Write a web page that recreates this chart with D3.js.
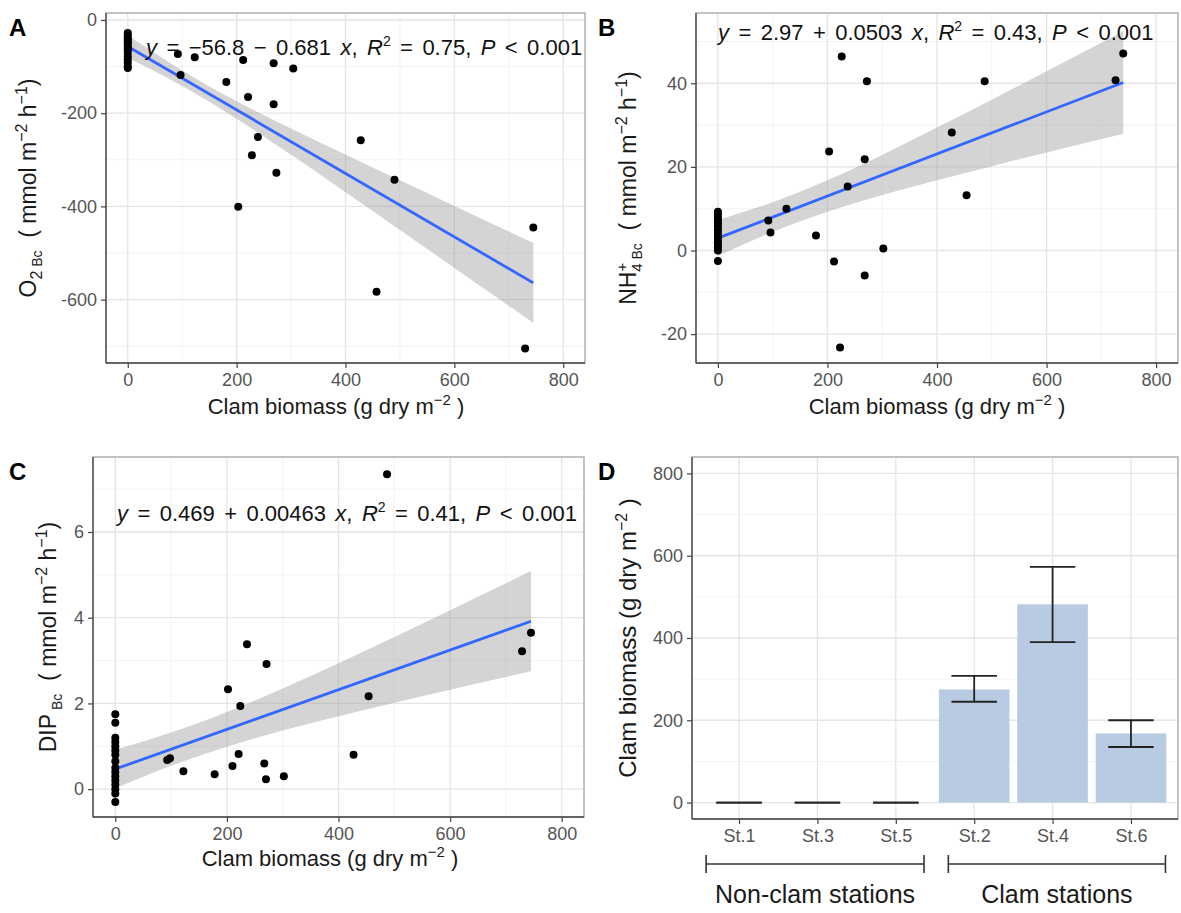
<!DOCTYPE html>
<html><head><meta charset="utf-8">
<script src="https://cdn.jsdelivr.net/npm/d3@7"></script>
<style>
body{margin:0;background:#fff}
svg{display:block}
text{font-family:"Liberation Sans",Arial,Helvetica,sans-serif}
</style>
</head><body>
<svg id="c" width="1181" height="913"></svg>
<script>
// ---------------- DATA ----------------
const xTicks = [0, 200, 400, 600, 800];
const xMinorTicks = [100, 300, 500, 700];

// Panel A : O2 flux
const aZeroY = [-28, -33, -38, -42, -46, -50, -55, -60, -64, -70, -78, -85, -92, -100, -103];
const aX = [92, 97, 123, 181, 203, 212, 221, 228, 239, 268, 268, 273, 304, 428, 457, 490, 730, 745];
const aY = [-73, -118, -80, -133, -401, -86, -165, -290, -251, -93, -181, -328, -104, -258, -583, -343, -705, -445];
const aCoef = [-56.8, -0.681];
const aBandX = [0, 100, 200, 300, 400, 500, 600, 700, 745];
const aBandLo = [-80.8, -141.5, -211.7, -289.4, -369.6, -450.6, -531.9, -613.4, -650.1];
const aBandHi = [-32.8, -108.3, -174.3, -232.8, -288.8, -344.0, -398.9, -453.6, -478.1];
const aYTicks = [0, -200, -400, -600];
const aYMinor = [-100, -300, -500, -700];

// Panel B : NH4 flux
const bZeroY = [9.3, 8.6, 7.9, 7.2, 6.5, 5.8, 5.0, 4.3, 3.6, 2.8, 2.0, 1.4, 0.7, 0, -2.5];
const bX = [92, 96, 125, 179, 203, 212, 223, 226, 237, 268, 268, 272, 302, 427, 454, 487, 726, 740];
const bY = [7.2, 4.3, 10, 3.6, 23.7, -2.6, -23.2, 46.4, 15.3, 21.8, -6.0, 40.5, 0.5, 28.2, 13.2, 40.5, 40.7, 47.1];
const bCoef = [2.97, 0.0503];
const bBandX = [0, 100, 200, 300, 400, 500, 600, 700, 740];
const bBandLo = [-1.33, 4.46, 9.28, 13.26, 16.79, 20.16, 23.45, 26.68, 27.89];
const bBandHi = [7.27, 11.54, 16.78, 22.86, 29.39, 36.08, 42.85, 49.68, 52.49];
const bYTicks = [-20, 0, 20, 40];
const bYMinor = [-10, 10, 30, 50];

// Panel C : DIP flux
const cZeroY = [1.75, 1.55, 1.2, 1.1, 1.0, 0.9, 0.8, 0.65, 0.5, 0.4, 0.3, 0.2, 0.1, 0.0, -0.1, -0.3];
const cX = [93, 98, 122, 178, 202, 210, 221, 224, 236, 267, 270, 271, 302, 427, 454, 487, 729, 745];
const cY = [0.68, 0.72, 0.42, 0.35, 2.33, 0.54, 0.82, 1.94, 3.38, 0.6, 0.23, 2.92, 0.3, 0.8, 2.17, 7.35, 3.22, 3.65];
const cCoef = [0.469, 0.00463];
const cBandX = [0, 100, 200, 300, 400, 500, 600, 700, 745];
const cBandLo = [0.019, 0.543, 0.990, 1.367, 1.702, 2.016, 2.319, 2.616, 2.748];
const cBandHi = [0.919, 1.321, 1.800, 2.349, 2.940, 3.552, 4.175, 4.804, 5.088];
const cYTicks = [0, 2, 4, 6];
const cYMinor = [1, 3, 5, 7];

// Panel D : clam biomass by station
const dStations = ["St.1", "St.3", "St.5", "St.2", "St.4", "St.6"];
const dMean = [0, 0, 0, 275, 482, 168];
const dLow = [0, 0, 0, 245, 390, 135];
const dHigh = [0, 0, 0, 308, 573, 200];
const dYTicks = [0, 200, 400, 600, 800];
const dYMinor = [100, 300, 500, 700];
const dGroups = ["Non-clam stations", "Clam stations"];

// ---------------- DRAW ----------------
const svg = d3.select("#c");
const GRID_MAJ = "#e5e5e5", GRID_MIN = "#f2f2f2";
const TICK_COL = "#555";
const TICK_FS = 18, XT_FS = 22, YT_FS = 23, EQ_FS = 22;

function addRichText(sel, parts) {
  parts.forEach(p => {
    const t = sel.append("tspan").text(p.t);
    if (p.it) t.attr("font-style", "italic");
    if (p.fs) t.attr("font-size", p.fs);
    if (p.dy) t.attr("dy", p.dy);
    if (p.dx) t.attr("dx", p.dx);
  });
}

function scatterPanel(cfg) {
  const g = svg.append("g");
  const x = d3.scaleLinear().domain([-40, 840]).range([cfg.L, cfg.R]);
  const y = d3.scaleLinear().domain(cfg.yDom).range([cfg.B, cfg.T]);
  g.append("rect").attr("x", cfg.L).attr("y", cfg.T).attr("width", cfg.R - cfg.L).attr("height", cfg.B - cfg.T).attr("fill", "#fff");
  g.selectAll(null).data(xMinorTicks).join("line")
    .attr("x1", d => x(d)).attr("x2", d => x(d)).attr("y1", cfg.T).attr("y2", cfg.B)
    .attr("stroke", GRID_MIN).attr("stroke-width", 0.9);
  g.selectAll(null).data(cfg.yMinor).join("line")
    .attr("y1", d => y(d)).attr("y2", d => y(d)).attr("x1", cfg.L).attr("x2", cfg.R)
    .attr("stroke", GRID_MIN).attr("stroke-width", 0.9);
  g.selectAll(null).data(xTicks).join("line")
    .attr("x1", d => x(d)).attr("x2", d => x(d)).attr("y1", cfg.T).attr("y2", cfg.B)
    .attr("stroke", GRID_MAJ).attr("stroke-width", 1.3);
  g.selectAll(null).data(cfg.yTicks).join("line")
    .attr("y1", d => y(d)).attr("y2", d => y(d)).attr("x1", cfg.L).attr("x2", cfg.R)
    .attr("stroke", GRID_MAJ).attr("stroke-width", 1.3);
  const band = cfg.bandX.map((bx, i) => [bx, cfg.bandLo[i], cfg.bandHi[i]]);
  g.append("path").datum(band)
    .attr("d", d3.area().x(d => x(d[0])).y0(d => y(d[1])).y1(d => y(d[2])).curve(d3.curveMonotoneX))
    .attr("fill", "#999").attr("fill-opacity", 0.42);
  const fitEnds = [cfg.bandX[0], cfg.bandX[cfg.bandX.length - 1]];
  g.append("path").datum(fitEnds)
    .attr("d", d3.line().x(d => x(d)).y(d => y(cfg.coef[0] + cfg.coef[1] * d)))
    .attr("stroke", "#3366FF").attr("stroke-width", 2.8).attr("fill", "none");
  const pts = cfg.zeroY.map(v => [0, v]).concat(cfg.px.map((v, i) => [v, cfg.py[i]]));
  g.selectAll(null).data(pts).join("circle")
    .attr("cx", d => x(d[0])).attr("cy", d => y(d[1])).attr("r", 4).attr("fill", "#000");
  g.append("rect").attr("x", cfg.L).attr("y", cfg.T).attr("width", cfg.R - cfg.L).attr("height", cfg.B - cfg.T)
    .attr("fill", "none").attr("stroke", "#aaa").attr("stroke-width", 1.4);
  const ax = g.append("g").attr("transform", `translate(0,${cfg.B})`)
    .call(d3.axisBottom(x).tickValues(xTicks).tickSize(5).tickPadding(5).tickFormat(d => String(d)));
  const ay = g.append("g").attr("transform", `translate(${cfg.L},0)`)
    .call(d3.axisLeft(y).tickValues(cfg.yTicks).tickSize(5).tickPadding(4).tickFormat(d => String(d)));
  [ax, ay].forEach(a => {
    a.select(".domain").attr("stroke", "#444").attr("stroke-width", 1.3);
    a.selectAll(".tick line").attr("stroke", "#444").attr("stroke-width", 1.2);
    a.selectAll(".tick text").attr("fill", TICK_COL).attr("font-size", TICK_FS).attr("font-family", null);
  });
  ax.select(".domain").attr("d", `M${cfg.L},0H${cfg.R}`);
  ay.select(".domain").attr("d", `M0,${cfg.T}V${cfg.B}`);
  const xt = g.append("text").attr("x", cfg.xTitleX).attr("y", cfg.xTitleY)
    .attr("text-anchor", "middle").attr("font-size", XT_FS).attr("fill", "#1a1a1a");
  addRichText(xt, [{t: "Clam biomass (g dry  m"}, {t: "−2", fs: 15, dy: -9}, {t: " )", dy: 9}]);
  const yt = g.append("text").attr("transform", `translate(${cfg.yTitleX},${(cfg.T + cfg.B) / 2}) rotate(-90)`)
    .attr("text-anchor", "middle").attr("font-size", YT_FS).attr("fill", "#1a1a1a");
  addRichText(yt, cfg.yTitle);
  const eq = g.append("text").attr("x", cfg.eqX).attr("y", cfg.eqY).attr("font-size", EQ_FS)
    .attr("word-spacing", 3.3).attr("fill", "#111");
  addRichText(eq, cfg.eq);
  g.append("text").attr("x", cfg.tagX).attr("y", cfg.tagY).attr("font-size", 24).attr("font-weight", "bold")
    .attr("fill", "#000").text(cfg.tag);
}

const unitTail = [
  {t: " ( mmol m"}, {t: "−2", fs: 16, dy: -9}, {t: " h", dy: 9}, {t: "−1", fs: 16, dy: -9}, {t: ")", dy: 9}
];

scatterPanel({
  L: 106, R: 585, T: 13, B: 363, yDom: [-736, 15], yTicks: aYTicks, yMinor: aYMinor,
  zeroY: aZeroY, px: aX, py: aY, coef: aCoef, bandX: aBandX, bandLo: aBandLo, bandHi: aBandHi,
  xTitleX: 336, xTitleY: 414, yTitleX: 36, tag: "A", tagX: 9, tagY: 36, eqX: 146, eqY: 55,
  yTitle: [{t: "O"}, {t: "2", fs: 16, dy: 6}, {t: " Bc", fs: 14}, {t: "\u00a0", dy: -6}].concat(unitTail),
  eq: [{t: "y", it: 1}, {t: " = −56.8 − 0.681 "}, {t: "x", it: 1}, {t: ", "}, {t: "R", it: 1},
       {t: "2", fs: 14, dy: -9}, {t: " = 0.75, ", dy: 9}, {t: "P", it: 1}, {t: " < 0.001"}]
});

scatterPanel({
  L: 696, R: 1178, T: 13, B: 363, yDom: [-26.9, 56.8], yTicks: bYTicks, yMinor: bYMinor,
  zeroY: bZeroY, px: bX, py: bY, coef: bCoef, bandX: bBandX, bandLo: bBandLo, bandHi: bBandHi,
  xTitleX: 937, xTitleY: 414, yTitleX: 636, tag: "B", tagX: 598, tagY: 36, eqX: 718, eqY: 40,
  yTitle: [{t: "NH"}, {t: "+", fs: 15, dy: -9}, {t: "4", fs: 15, dx: -9, dy: 15}, {t: " Bc", fs: 14}, {t: "\u00a0", dy: -6}].concat(unitTail),
  eq: [{t: "y", it: 1}, {t: " = 2.97 + 0.0503 "}, {t: "x", it: 1}, {t: ", "}, {t: "R", it: 1},
       {t: "2", fs: 14, dy: -9}, {t: " = 0.43, ", dy: 9}, {t: "P", it: 1}, {t: " < 0.001"}]
});

scatterPanel({
  L: 93, R: 584, T: 457, B: 817, yDom: [-0.65, 7.75], yTicks: cYTicks, yMinor: cYMinor,
  zeroY: cZeroY, px: cX, py: cY, coef: cCoef, bandX: cBandX, bandLo: cBandLo, bandHi: cBandHi,
  xTitleX: 330, xTitleY: 866, yTitleX: 56, tag: "C", tagX: 9, tagY: 480, eqX: 117, eqY: 521,
  yTitle: [{t: "DIP"}, {t: " Bc", fs: 14, dy: 6}, {t: "\u00a0", dy: -6}].concat(unitTail),
  eq: [{t: "y", it: 1}, {t: " = 0.469 + 0.00463 "}, {t: "x", it: 1}, {t: ", "}, {t: "R", it: 1},
       {t: "2", fs: 14, dy: -9}, {t: " = 0.41, ", dy: 9}, {t: "P", it: 1}, {t: " < 0.001"}]
});

// ---- Panel D ----
(function () {
  const L = 692, R = 1178, T = 457, B = 819;
  const g = svg.append("g");
  const x = d3.scalePoint().domain(dStations).range([L, R]).padding(0.6);
  const step = x.step();
  const y = d3.scaleLinear().domain([-40, 840]).range([B, T]);
  g.append("rect").attr("x", L).attr("y", T).attr("width", R - L).attr("height", B - T).attr("fill", "#fff");
  g.selectAll(null).data(dYMinor).join("line")
    .attr("y1", d => y(d)).attr("y2", d => y(d)).attr("x1", L).attr("x2", R)
    .attr("stroke", GRID_MIN).attr("stroke-width", 0.9);
  g.selectAll(null).data(dYTicks).join("line")
    .attr("y1", d => y(d)).attr("y2", d => y(d)).attr("x1", L).attr("x2", R)
    .attr("stroke", GRID_MAJ).attr("stroke-width", 1.3);
  g.selectAll(null).data(dStations).join("line")
    .attr("x1", d => x(d)).attr("x2", d => x(d)).attr("y1", T).attr("y2", B)
    .attr("stroke", GRID_MAJ).attr("stroke-width", 1.3);
  const bw = step * 0.9;
  g.selectAll(null).data(dStations).join("rect")
    .attr("x", d => x(d) - bw / 2).attr("width", bw)
    .attr("y", (d, i) => y(dMean[i])).attr("height", (d, i) => y(0) - y(dMean[i]))
    .attr("fill", "#b9cbe2");
  const cw = step * 0.58;
  const eb = g.selectAll(null).data(dStations).join("g");
  eb.append("line").attr("x1", d => x(d)).attr("x2", d => x(d))
    .attr("y1", (d, i) => y(dLow[i])).attr("y2", (d, i) => y(dHigh[i]))
    .attr("stroke", "#222").attr("stroke-width", 1.8);
  eb.append("line").attr("x1", d => x(d) - cw / 2).attr("x2", d => x(d) + cw / 2)
    .attr("y1", (d, i) => y(dLow[i])).attr("y2", (d, i) => y(dLow[i]))
    .attr("stroke", "#222").attr("stroke-width", 1.8);
  eb.append("line").attr("x1", d => x(d) - cw / 2).attr("x2", d => x(d) + cw / 2)
    .attr("y1", (d, i) => y(dHigh[i])).attr("y2", (d, i) => y(dHigh[i]))
    .attr("stroke", "#222").attr("stroke-width", 1.8);
  g.append("rect").attr("x", L).attr("y", T).attr("width", R - L).attr("height", B - T)
    .attr("fill", "none").attr("stroke", "#aaa").attr("stroke-width", 1.4);
  const ax = g.append("g").attr("transform", `translate(0,${B})`)
    .call(d3.axisBottom(x).tickSize(5).tickPadding(5));
  const ay = g.append("g").attr("transform", `translate(${L},0)`)
    .call(d3.axisLeft(y).tickValues(dYTicks).tickSize(5).tickPadding(4).tickFormat(d => String(d)));
  [ax, ay].forEach(a => {
    a.select(".domain").attr("stroke", "#444").attr("stroke-width", 1.3);
    a.selectAll(".tick line").attr("stroke", "#444").attr("stroke-width", 1.2);
    a.selectAll(".tick text").attr("fill", TICK_COL).attr("font-size", TICK_FS).attr("font-family", null);
  });
  ax.select(".domain").attr("d", `M${L},0H${R}`);
  ay.select(".domain").attr("d", `M0,${T}V${B}`);
  const groups = [
    {name: dGroups[0], a: x(dStations[0]) - 0.42 * step, b: x(dStations[2]) + 0.36 * step},
    {name: dGroups[1], a: x(dStations[3]) - 0.33 * step, b: x(dStations[5]) + 0.44 * step}
  ];
  const by = 864;
  groups.forEach(gr => {
    g.append("line").attr("x1", gr.a).attr("x2", gr.b).attr("y1", by).attr("y2", by).attr("stroke", "#333").attr("stroke-width", 1.6);
    [gr.a, gr.b].forEach(px => g.append("line").attr("x1", px).attr("x2", px).attr("y1", by - 9).attr("y2", by + 9)
      .attr("stroke", "#333").attr("stroke-width", 1.6));
    g.append("text").attr("x", (gr.a + gr.b) / 2).attr("y", 903).attr("text-anchor", "middle")
      .attr("font-size", 25).attr("fill", "#1a1a1a").text(gr.name);
  });
  const yt = g.append("text").attr("transform", `translate(636,${(T + B) / 2}) rotate(-90)`)
    .attr("text-anchor", "middle").attr("font-size", 24).attr("fill", "#1a1a1a");
  addRichText(yt, [{t: "Clam biomass (g dry m"}, {t: "−2", fs: 16, dy: -9}, {t: " )", dy: 9}]);
  g.append("text").attr("x", 598).attr("y", 480).attr("font-size", 24).attr("font-weight", "bold").attr("fill", "#000").text("D");
})();
</script>
</body></html>
